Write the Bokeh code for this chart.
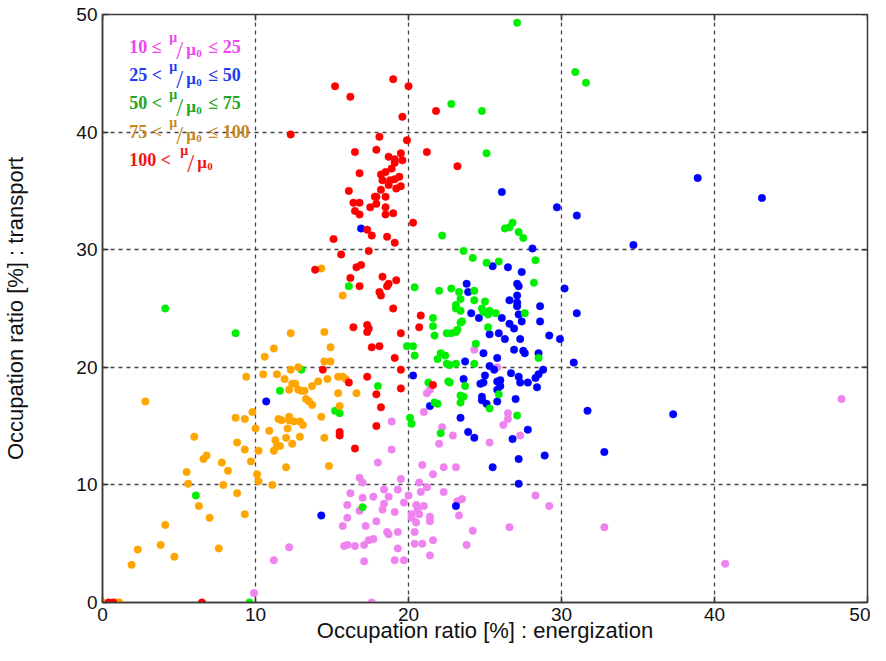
from bokeh.plotting import figure
from bokeh.models import Range1d, FixedTicker
from bokeh.core.properties import value
from bokeh.embed import file_html
from bokeh.resources import INLINE

# ---------------- data ----------------
ticks = [0, 10, 20, 30, 40, 50]
x_max = 50
y_max = 50

pink_x = [9.9, 17.6, 18.9, 18.9, 18.0, 16.8, 17.0, 19.5, 16.2, 17.0, 17.7, 18.4, 18.7, 19.3, 16.0, 16.8,
          18.4, 18.3, 19.7, 19.1, 16.0, 15.7, 17.2, 17.9, 18.6, 18.7, 19.3, 17.4, 17.7, 17.1, 15.8, 16.0,
          16.5, 19.3, 12.2, 11.2, 17.1, 19.1, 19.7,
          24.3, 25.8, 21.2, 21.4, 21.0, 22.2, 22.9, 26.5, 26.5, 26.2, 27.3,
          22.0, 25.3, 20.9, 21.6, 22.3, 23.1, 20.7, 21.2, 20.8, 20.0, 22.3, 23.2, 23.5, 28.3, 29.2, 20.5,
          20.6, 21.0, 20.2, 20.2, 20.7, 20.5, 21.4, 21.4, 23.3, 20.4, 21.6, 20.9, 20.4, 21.4, 24.2, 23.8,
          26.6, 48.3, 32.8, 40.7]
pink_y = [0.8, 0.0, 15.4, 13.0, 11.9, 10.6, 10.2, 10.5, 9.3, 8.9, 9.0, 9.6, 9.0, 9.6, 8.3, 7.8,
          8.4, 7.9, 8.5, 7.7, 7.2, 6.5, 6.5, 6.9, 6.0, 5.8, 6.0, 5.3, 5.4, 4.9, 4.8, 4.9,
          4.8, 4.6, 4.7, 3.6, 3.5, 3.6, 3.6,
          21.5, 20.0, 17.8, 18.1, 16.2, 14.9, 14.2, 16.1, 15.6, 15.1, 14.2,
          13.5, 13.6, 11.7, 10.9, 11.5, 11.5, 10.2, 9.8, 9.4, 9.1, 9.4, 8.6, 8.8, 9.1, 8.2, 8.3,
          7.9, 8.2, 7.5, 7.2, 7.5, 6.8, 7.3, 6.9, 7.4, 6.0, 5.3, 5.0, 5.0, 4.0, 6.1, 4.9,
          6.4, 17.3, 6.4, 3.3]

blue_x = [10.7, 14.3, 16.9,
          26.1, 29.7, 28.1, 25.5, 26.5, 27.4, 23.8, 23.9, 27.1, 27.2, 27.1, 26.6, 27.1, 27.1, 28.6, 28.6,
          24.1, 24.6, 26.1, 27.2, 27.4, 26.6, 26.9, 25.3, 25.9, 26.3, 27.3, 29.2, 24.9, 25.8, 26.9, 27.5,
          27.6, 28.5, 23.7, 25.3, 25.6, 28.8, 28.5, 28.3, 27.8, 27.2, 27.3, 26.7, 25.0, 24.9, 24.7, 26.0,
          25.8, 26.0, 25.8, 23.6, 24.8, 24.8, 25.1, 25.8, 27.0, 20.3, 21.4, 23.4, 23.9, 24.3, 26.8, 27.8,
          28.4,
          27.2, 25.5, 28.9, 27.2, 23.1,
          38.9, 43.1, 31.0, 34.7, 30.2, 31.0, 29.9, 30.8, 31.7, 37.3, 32.8]
blue_y = [17.1, 7.4, 31.8,
          34.9, 33.6, 30.1, 28.6, 28.5, 28.1, 27.1, 26.4, 27.1, 26.9, 26.1, 25.7, 25.5, 25.2, 25.2, 23.9,
          24.6, 24.2, 24.2, 24.5, 23.9, 23.7, 23.3, 22.8, 22.9, 22.4, 22.4, 22.7, 21.2, 20.8, 21.5, 21.4,
          21.2, 21.2, 20.5, 20.1, 19.8, 19.8, 19.4, 19.1, 18.7, 19.2, 18.7, 19.5, 19.3, 18.7, 18.6, 18.9,
          18.8, 18.4, 18.1, 19.0, 17.5, 17.2, 16.9, 17.1, 17.3, 19.3, 16.7, 15.7, 14.5, 14.0, 13.9, 14.7,
          18.3,
          12.2, 11.5, 12.5, 10.1, 8.2,
          36.1, 34.4, 32.9, 30.4, 26.7, 24.6, 22.4, 20.4, 16.3, 16.0, 12.8]

green_x = [4.1, 8.7, 6.1, 9.6,
           16.1, 13.0, 18.0, 11.6, 15.2, 15.5, 17.0,
           25.1, 26.8, 26.3, 26.6, 27.2, 27.5, 22.2, 23.6, 24.2, 25.1, 25.9, 28.3, 20.4, 22.0, 22.8, 23.3,
           24.3, 28.2, 23.1, 23.1, 23.4, 23.4, 24.3, 24.8, 25.0,
           24.9, 25.2, 25.3, 25.7, 27.6, 21.6, 21.6, 21.7, 22.5, 22.8, 23.1, 23.2, 23.4, 23.5, 25.2, 24.4,
           19.9, 20.3, 20.4, 21.9, 22.1, 22.4, 22.5, 22.7, 23.1, 24.3, 21.3, 22.6, 22.7, 23.7, 23.4, 23.6,
           23.4, 21.7, 21.9, 25.3, 25.9, 28.5, 27.1, 20.1, 20.2, 22.1,
           30.9, 31.6, 27.1, 22.8, 24.8]
green_y = [25.0, 22.9, 9.1, 0.0,
           26.9, 19.8, 18.4, 18.0, 16.3, 16.1, 8.1,
           38.2, 32.3, 31.8, 31.9, 31.5, 31.0, 31.2, 29.9, 29.3, 28.9, 29.0, 29.1, 26.8, 26.5, 26.7, 26.4,
           26.5, 27.2, 25.3, 25.0, 25.8, 24.8, 25.7, 25.0, 25.6,
           24.7, 24.5, 24.8, 24.6, 24.6, 24.2, 23.5, 22.7, 22.9, 22.9, 23.0, 23.2, 23.8, 23.9, 23.4, 22.0,
           21.8, 21.8, 21.0, 20.7, 21.2, 21.0, 20.3, 20.2, 20.3, 20.3, 18.7, 18.8, 18.7, 18.4, 17.6, 17.5,
           17.0, 17.0, 16.9, 16.5, 17.7, 20.8, 15.9, 15.7, 15.2, 14.4,
           45.1, 44.2, 49.3, 42.4, 41.8]

orange_x = [2.8, 6.0, 6.6, 6.8, 7.8, 8.2, 5.5, 5.6, 7.9, 8.8, 6.3, 7.0, 4.1, 3.8, 2.3, 4.7, 7.6, 1.9,
            8.7, 8.8, 0.0, 0.9, 1.1,
            14.3, 15.7, 12.3, 14.5, 11.2, 14.9, 10.6, 14.5, 14.9, 9.4, 10.5, 11.4, 12.3, 12.8, 11.9, 12.4,
            12.6, 13.7, 14.1, 14.7, 15.4, 15.7, 15.9, 12.2, 12.8, 13.0, 13.2, 15.4, 16.6, 13.3, 13.5, 13.7,
            15.5, 9.8, 9.3, 14.3, 11.5, 11.7, 12.2, 12.2, 12.5, 12.9, 13.1, 12.1, 10.0, 10.9, 14.5, 11.3,
            12.0, 12.9,
            12.4, 11.6, 11.4, 11.2, 9.3, 10.2, 9.7, 12.0, 14.8, 10.1, 10.2, 11.1, 9.3]
orange_y = [17.1, 14.1, 12.2, 12.5, 11.9, 11.2, 11.1, 10.1, 10.0, 9.3, 8.2, 7.2, 6.6, 4.9, 4.5, 3.9, 4.6, 3.2,
            15.7, 13.6, 0.0, 0.0, 0.0,
            28.4, 26.1, 22.9, 23.0, 21.6, 21.7, 20.9, 20.5, 20.5, 19.2, 19.4, 19.4, 19.8, 20.0, 19.0, 18.6,
            18.6, 18.4, 18.8, 19.0, 19.2, 19.2, 19.0, 18.1, 18.1, 18.0, 18.0, 17.8, 17.8, 17.3, 17.1, 16.8,
            16.7, 16.2, 15.6, 15.8, 15.6, 15.5, 15.8, 15.5, 15.4, 15.4, 15.1, 14.8, 14.8, 14.6, 14.0, 13.8,
            14.0, 14.1,
            13.5, 13.3, 13.3, 12.9, 13.0, 12.9, 12.0, 11.5, 11.6, 10.9, 10.3, 10.0, 7.5]

red_x = [0.4, 0.7, 6.5,
         15.2, 16.2, 19.0, 20.0, 19.6, 12.3, 18.1, 16.5, 17.9, 19.5, 18.7, 19.1, 19.1, 19.6, 18.9, 16.8,
         18.5, 18.2, 18.3, 18.8, 19.1, 19.4, 19.5, 19.2, 18.7, 18.2, 16.1, 17.9, 17.8, 18.5, 16.4, 16.8,
         17.5, 17.9, 18.5, 16.5, 16.8, 18.5, 19.0, 17.3, 17.6, 18.6, 19.1, 15.1, 17.4,
         19.9, 21.2, 23.2, 20.3, 21.8,
         15.6, 13.9, 16.6, 16.9, 16.2, 16.8, 18.3, 19.2, 18.7, 18.6, 18.1, 18.2, 19.0, 16.4, 17.3, 17.4,
         17.3, 19.5, 17.6, 18.1, 19.1, 14.4, 16.1, 17.3, 19.5, 19.5, 17.9, 18.2, 17.9, 15.5, 15.5,
         16.5, 20.8, 20.7, 21.6]
red_y = [0.0, 0.0, 0.0,
         43.9, 43.0, 44.5, 43.9, 41.3, 39.8, 39.6, 38.3, 38.5, 38.2, 37.9, 37.7, 37.4, 37.6, 36.9, 36.5,
         36.6, 36.4, 35.9, 35.9, 36.0, 36.2, 35.4, 35.2, 35.5, 35.1, 35.0, 34.5, 34.5, 34.5, 34.0, 34.0,
         33.6, 33.9, 33.6, 33.3, 33.0, 33.0, 33.1, 31.7, 31.2, 31.1, 30.6, 30.9, 29.9,
         39.3, 38.3, 37.1, 32.3, 41.8,
         29.6, 28.3, 28.5, 28.7, 27.6, 26.9, 27.7, 27.4, 27.1, 26.9, 26.4, 26.1, 25.0, 23.4, 23.6, 23.3,
         23.0, 22.9, 21.7, 21.8, 20.8, 19.8, 18.7, 19.2, 19.8, 18.2, 17.7, 16.6, 15.0, 14.5, 14.2,
         13.1, 24.4, 23.4, 18.5]

legend_prefix = ["10 \u2264", "25 <", "50 <", "75 <", "100 <"]
legend_suffix = ["\u2264 25", "\u2264 50", "\u2264 75", "\u2264 100", ""]
legend_colors = ["#f044f0", "#1c3cf0", "#22a622", "#c8861e", "#f01414"]

series = [
    (pink_x, pink_y, "#ee82ee"),
    (blue_x, blue_y, "#0000ff"),
    (green_x, green_y, "#00ee00"),
    (orange_x, orange_y, "#ffa500"),
    (red_x, red_y, "#ff0000"),
]

# ---------------- figure ----------------
p = figure(width=870, height=645, x_range=Range1d(0, x_max), y_range=Range1d(0, y_max),
           output_backend="svg", toolbar_location=None,
           min_border_left=93, min_border_right=3, min_border_top=14, min_border_bottom=43,
           background_fill_color="white", border_fill_color="white")
p.outline_line_color = "#3a3a3a"
p.outline_line_width = 1.5

axis_font = "'Liberation Sans Narrow', 'Liberation Sans', sans-serif"
for ax in (p.xaxis[0], p.yaxis[0]):
    ax.ticker = FixedTicker(ticks=ticks)
    ax.major_tick_in = 6
    ax.major_tick_out = 0
    ax.minor_tick_line_color = None
    ax.major_tick_line_color = "#3a3a3a"
    ax.major_tick_line_width = 1.5
    ax.axis_line_color = "#3a3a3a"
    ax.axis_line_width = 1.5
    ax.major_label_text_font = axis_font
    ax.major_label_text_font_size = "19px"
    ax.major_label_text_color = "#111111"
    ax.axis_label_text_font = axis_font
    ax.axis_label_text_font_size = "22px"
    ax.axis_label_text_font_style = "normal"
    ax.axis_label_text_color = "#111111"

p.xaxis.axis_label = "Occupation ratio [%] : energization"
p.yaxis.axis_label = "Occupation ratio [%] : transport"
p.xaxis.major_label_standoff = 5
p.xaxis.axis_label_standoff = -6
p.yaxis.major_label_standoff = 5
p.yaxis.axis_label_standoff = 45

# inward mirror ticks on the top and right edges of the frame
p.ray(x=ticks, y=[y_max] * len(ticks), length=6, length_units="screen",
      angle=-90, angle_units="deg", line_color="#3a3a3a", line_width=1.5)
p.ray(x=[x_max] * len(ticks), y=ticks, length=6, length_units="screen",
      angle=180, angle_units="deg", line_color="#3a3a3a", line_width=1.5)

for g in (p.xgrid[0], p.ygrid[0]):
    g.ticker = FixedTicker(ticks=ticks)
    g.grid_line_color = "#444444"
    g.grid_line_dash = "4 4"
    g.grid_line_width = 1.3

for xs, ys, col in series:
    p.scatter(x=xs, y=ys, size=7.5, fill_color=col, line_color=col, line_width=0.5)

# ---------------- legend (text with super/subscripts) ----------------
lx = 1.75
serif = value("Liberation Serif")
for i, (pre, suf, col) in enumerate(zip(legend_prefix, legend_suffix, legend_colors)):
    ly = 47.25 - i * 2.4
    fd = 51 if len(pre) > 4 else 40
    pieces = [
        (pre, 0, 0, "18px", "bold"),
        ("\u03bc", fd, -9, "14px", "bold"),
        ("/", fd + 7, 4, "25px", "normal"),
        ("\u03bc", fd + 17, 3, "17px", "bold"),
        ("0", fd + 27, 7, "11px", "bold"),
    ]
    if suf:
        pieces.append((suf, fd + 39, 0, "18px", "bold"))
    for txt, dx, dy, fs, fst in pieces:
        p.text(x=[lx], y=[ly], text=[txt], x_offset=dx, y_offset=dy, text_font=serif,
               text_font_size=fs, text_font_style=fst, text_color=col,
               text_baseline="alphabetic", text_align="left")

open("out.html", "w").write(file_html(p, INLINE))
